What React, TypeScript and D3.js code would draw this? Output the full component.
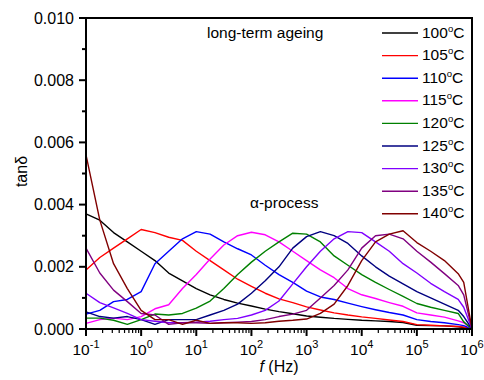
import React from 'react';
import * as d3 from 'd3';

// measured frequencies (Hz)
const freqs = [0.1, 0.178, 0.316, 0.562, 1, 1.78, 3.16, 5.62, 10, 17.8, 31.6, 56.2, 100, 178, 316, 562,
  1000, 1780, 3160, 5620, 1e4, 1.78e4, 3.16e4, 5.62e4, 1e5, 1.78e5, 3.16e5, 5.62e5, 7.08e5, 1e6];

const temps = ['100', '105', '110', '115', '120', '125', '130', '135', '140'];
const colors = ['#000000', '#ff0000', '#0000ff', '#ff00ff', '#008000', '#000080', '#8000ff', '#800080', '#800000'];

const t100 = [0.0037, 0.0035, 0.0031, 0.0028, 0.0025, 0.0022, 0.0018, 0.00155, 0.0013, 0.0011, 0.00095, 0.00083, 0.00074, 0.00064, 0.00056,
  0.00049, 0.00042, 0.00038, 0.00034, 0.00031, 0.00028, 0.00026, 0.00024, 0.00021, 0.00012, 0.00011, 0.0001, 0.00007, 0.00005, 0];
const t105 = [0.0019, 0.0023, 0.0026, 0.0029, 0.0032, 0.0031, 0.00295, 0.00285, 0.0025, 0.0022, 0.0019, 0.0016, 0.00137, 0.00115, 0.00097,
  0.00085, 0.00071, 0.00061, 0.00052, 0.00045, 0.00039, 0.00034, 0.00029, 0.00024, 0.00014, 0.00012, 0.0001, 0.00008, 0.00006, 0];
const t110 = [0.00048, 0.0006, 0.00088, 0.00095, 0.0012, 0.0021, 0.0025, 0.0029, 0.00313, 0.00305, 0.0028, 0.00258, 0.00238, 0.00205, 0.00175,
  0.0015, 0.00122, 0.00103, 0.00095, 0.00083, 0.00072, 0.00062, 0.00053, 0.00045, 0.0003, 0.00024, 0.0002, 0.00014, 0.00011, 0];
const t115 = [0.00018, 0.0003, 0.00035, 0.0003, 0.0004, 0.00065, 0.00078, 0.0013, 0.00175, 0.00225, 0.0027, 0.003, 0.00311, 0.00303, 0.0028,
  0.0025, 0.0022, 0.0019, 0.00165, 0.0013, 0.0011, 0.00098, 0.00085, 0.00073, 0.00052, 0.00045, 0.00038, 0.00026, 0.0002, 0];
const t120 = [0.00035, 0.00035, 0.00028, 0.00015, 0.0003, 0.00048, 0.00045, 0.0005, 0.00067, 0.0009, 0.0013, 0.00175, 0.00215, 0.0025, 0.0028,
  0.00308, 0.00305, 0.0028, 0.00235, 0.00205, 0.00175, 0.0015, 0.00127, 0.00105, 0.00082, 0.0007, 0.0006, 0.0005, 0.00023, 0];
const t125 = [0.00055, 0.0004, 0.00035, 0.0004, 0.0003, 0.00015, 0.0003, 0.0003, 0.0003, 0.00045, 0.0006, 0.0008, 0.00115, 0.00155, 0.002,
  0.0026, 0.00297, 0.00313, 0.003, 0.00275, 0.00235, 0.002, 0.0017, 0.00145, 0.0012, 0.001, 0.0008, 0.0006, 0.0004, 0];
const t130 = [0.00115, 0.00085, 0.00068, 0.0005, 0.0003, 0.00025, 0.0002, 0.0002, 0.00022, 0.00025, 0.0003, 0.00034, 0.00045, 0.0006, 0.0009,
  0.00145, 0.002, 0.0025, 0.0029, 0.00313, 0.0031, 0.0028, 0.0025, 0.0021, 0.0018, 0.00147, 0.0012, 0.00095, 0.0007, 0];
const t135 = [0.0026, 0.0018, 0.00125, 0.00088, 0.0005, 0.00045, 0.00015, 0.0002, 0.0002, 0.00018, 0.0002, 0.00022, 0.00024, 0.0003, 0.0004,
  0.00048, 0.0006, 0.001, 0.0014, 0.0019, 0.0026, 0.003, 0.00305, 0.0029, 0.0025, 0.00215, 0.00178, 0.0014, 0.0011, 0];
const t140 = [0.0056, 0.0035, 0.0021, 0.0013, 0.0006, 0.0003, 0.0003, 0.00015, 0.00028, 0.00018, 0.0002, 0.0002, 0.00018, 0.0002, 0.00025,
  0.00028, 0.00032, 0.0005, 0.0008, 0.0014, 0.0022, 0.0028, 0.00305, 0.00316, 0.00278, 0.0025, 0.0022, 0.00178, 0.0015, 0];

const series = [t100, t105, t110, t115, t120, t125, t130, t135, t140];

const yTicks = [0, 0.002, 0.004, 0.006, 0.008, 0.01];
const xDecades = [-1, 0, 1, 2, 3, 4, 5, 6];

const font = '"Liberation Sans", Arial, sans-serif';

export default function App() {
  const W = 484, H = 380;
  const m = { left: 86, right: 472, top: 18, bottom: 329 };

  const x = d3.scaleLog().domain([0.1, 1e6]).range([m.left, m.right]);
  const y = d3.scaleLinear().domain([0, 0.01]).range([m.bottom, m.top]);

  const line = d3.line<number>()
    .x((_, i) => x(freqs[i]))
    .y(d => y(d));

  const minorX: number[] = [];
  for (let e = -1; e < 6; e++) {
    for (let k = 2; k <= 9; k++) minorX.push(k * Math.pow(10, e));
  }
  const minorY = d3.range(0.001, 0.01, 0.002);

  return (
    <svg width={W} height={H} style={{ position: 'absolute', left: 0, top: 0, background: '#fff' }} fontFamily={font}>
      {series.map((s, i) => (
        <path key={i} d={line(s) || ''} fill="none" stroke={colors[i]} strokeWidth={1.4} strokeLinejoin="round" />
      ))}

      {/* frame */}
      <rect x={m.left} y={m.top} width={m.right - m.left} height={m.bottom - m.top} fill="none" stroke="#000" strokeWidth={2} />

      {/* y ticks */}
      {yTicks.map(t => (
        <g key={t}>
          <line x1={m.left - 7} x2={m.left} y1={y(t)} y2={y(t)} stroke="#000" strokeWidth={2} />
          <text x={m.left - 12} y={y(t) + 5.5} textAnchor="end" fontSize={16}>{t.toFixed(3)}</text>
        </g>
      ))}
      {minorY.map(t => (
        <line key={t} x1={m.left - 4} x2={m.left} y1={y(t)} y2={y(t)} stroke="#000" strokeWidth={2} />
      ))}

      {/* x ticks */}
      {xDecades.map(e => (
        <g key={e}>
          <line x1={x(Math.pow(10, e))} x2={x(Math.pow(10, e))} y1={m.bottom} y2={m.bottom + 7} stroke="#000" strokeWidth={2} />
          <text x={x(Math.pow(10, e))} y={355} textAnchor="middle" fontSize={15.5}>
            10<tspan dy={-7} fontSize={11}>{e}</tspan>
          </text>
        </g>
      ))}
      {minorX.map(v => (
        <line key={v} x1={x(v)} x2={x(v)} y1={m.bottom} y2={m.bottom + 4} stroke="#000" strokeWidth={1.2} />
      ))}

      {/* axis titles */}
      <text transform={`translate(26.5,${(m.top + m.bottom) / 2 - 2}) rotate(-90)`} textAnchor="middle" fontSize={16}>tanδ</text>
      <text x={279} y={372} textAnchor="middle" fontSize={16}>
        <tspan fontStyle="italic">f</tspan> (Hz)
      </text>

      {/* annotations */}
      <text x={207} y={38} fontSize={15.5}>long-term ageing</text>
      <text x={250} y={208} fontSize={15.5}>α-process</text>

      {/* legend */}
      {temps.map((t, i) => {
        const ly = 33 + i * 22.6;
        return (
          <g key={t}>
            <line x1={382} x2={418} y1={ly} y2={ly} stroke={colors[i]} strokeWidth={1.4} />
            <text x={422} y={ly + 4.5} fontSize={15.5}>
              {t}<tspan dy={-6} fontSize={9.5}>o</tspan><tspan dy={6}>C</tspan>
            </text>
          </g>
        );
      })}
    </svg>
  );
}
